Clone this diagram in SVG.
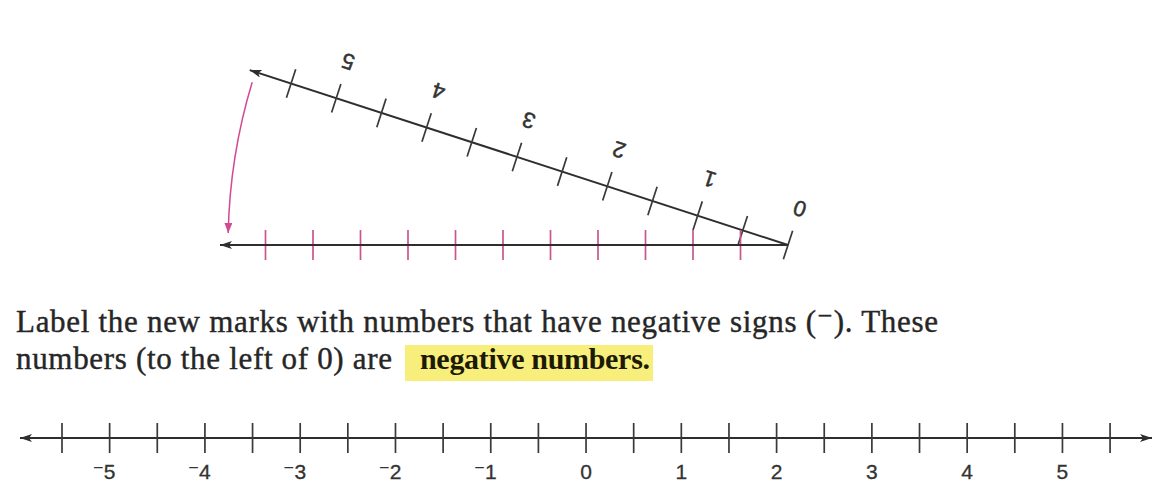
<svg xmlns="http://www.w3.org/2000/svg" width="1154" height="484" viewBox="0 0 1154 484">
<defs>
<style>
.ln{stroke:#2e2e2e;stroke-width:2;fill:none}
.tk{stroke:#3a3a3a;stroke-width:1.7;fill:none}
.mtk{stroke:#c9568f;stroke-width:1.7;fill:none}
.arc{stroke:#d24a92;stroke-width:1.5;fill:none}
.num{font-family:"Liberation Sans","DejaVu Sans",sans-serif;font-size:21px;fill:#333;stroke:#333;stroke-width:0.3}
.rnum{font-family:"Liberation Sans","DejaVu Sans",sans-serif;font-size:22px;fill:#333;stroke:#333;stroke-width:0.5;text-anchor:middle}
.para{font-family:"Liberation Serif","DejaVu Serif",serif;font-size:31px;fill:#262626;stroke:#262626;stroke-width:0.4}
.bold{font-family:"Liberation Serif","DejaVu Serif",serif;font-size:30px;font-weight:bold;fill:#1c1a05}
</style>
<marker id="ah" viewBox="0 0 12 8" refX="12" refY="4" markerWidth="12" markerHeight="8" markerUnits="userSpaceOnUse" orient="auto-start-reverse">
<path d="M0,0 L12,4 L0,8 L3,4 z" fill="#2e2e2e"/>
</marker>
<marker id="ahm" viewBox="0 0 10 8" refX="10" refY="4" markerWidth="10" markerHeight="8" markerUnits="userSpaceOnUse" orient="auto">
<path d="M0,0 L10,4 L0,8 z" fill="#d24a92"/>
</marker>
</defs>
<rect width="1154" height="484" fill="#ffffff"/>

<g id="rotated-line" transform="translate(788,245) rotate(198)">
<path class="ln" d="M0,0 L566,0" marker-end="url(#ah)"/>
<path class="tk" d="M0,-15V15M47.5,-15V15M95,-15V15M142.5,-15V15M190,-15V15M237.5,-15V15M285,-15V15M332.5,-15V15M380,-15V15M427.5,-15V15M475,-15V15M522.5,-15V15"/>
<text class="rnum" x="0" y="46">0</text>
<text class="rnum" x="95" y="46">1</text>
<text class="rnum" x="190" y="46">2</text>
<text class="rnum" x="285" y="46">3</text>
<text class="rnum" x="380" y="46">4</text>
<text class="rnum" x="475" y="46">5</text>
</g>

<g id="horizontal-line">
<path class="mtk" d="M740.5,230V260M693,230V260M645.5,230V260M598,230V260M550.5,230V260M503,230V260M455.5,230V260M408,230V260M360.5,230V260M313,230V260M265.5,230V260"/>
<path class="ln" d="M788,245 H220" marker-end="url(#ah)"/>
</g>

<g id="connectors">
<path class="arc" d="M252.2,82.2 A560,560 0 0 0 228.2,233" marker-end="url(#ahm)"/>
</g>

<g id="paragraph">
<rect x="405" y="345" width="248" height="36" fill="#f7ee7c"/>
<text class="para" x="16" y="332" textLength="922">Label the new marks with numbers that have negative signs (⁻). These</text>
<text class="para" x="16" y="369" textLength="376">numbers (to the left of 0) are</text>
<text class="bold" x="420" y="369" textLength="230">negative numbers.</text>
</g>

<g id="number-line">
<path class="ln" d="M20,438 H1152" marker-start="url(#ah)" marker-end="url(#ah)"/>
<path class="tk" d="M62,423V453M109.64,423V453M157.28,423V453M204.92,423V453M252.56,423V453M300.2,423V453M347.84,423V453M395.48,423V453M443.12,423V453M490.76,423V453M538.4,423V453M586.04,423V453M633.68,423V453M681.32,423V453M728.96,423V453M776.6,423V453M824.24,423V453M871.88,423V453M919.52,423V453M967.16,423V453M1014.8,423V453M1062.44,423V453M1110.08,423V453"/>
<text class="num" x="115.5" y="479" text-anchor="end">⁻5</text>
<text class="num" x="210.8" y="479" text-anchor="end">⁻4</text>
<text class="num" x="306.1" y="479" text-anchor="end">⁻3</text>
<text class="num" x="401.4" y="479" text-anchor="end">⁻2</text>
<text class="num" x="496.7" y="479" text-anchor="end">⁻1</text>
<text class="num" x="586.04" y="479" text-anchor="middle">0</text>
<text class="num" x="681.32" y="479" text-anchor="middle">1</text>
<text class="num" x="776.6" y="479" text-anchor="middle">2</text>
<text class="num" x="871.88" y="479" text-anchor="middle">3</text>
<text class="num" x="967.16" y="479" text-anchor="middle">4</text>
<text class="num" x="1062.44" y="479" text-anchor="middle">5</text>
</g>
</svg>
